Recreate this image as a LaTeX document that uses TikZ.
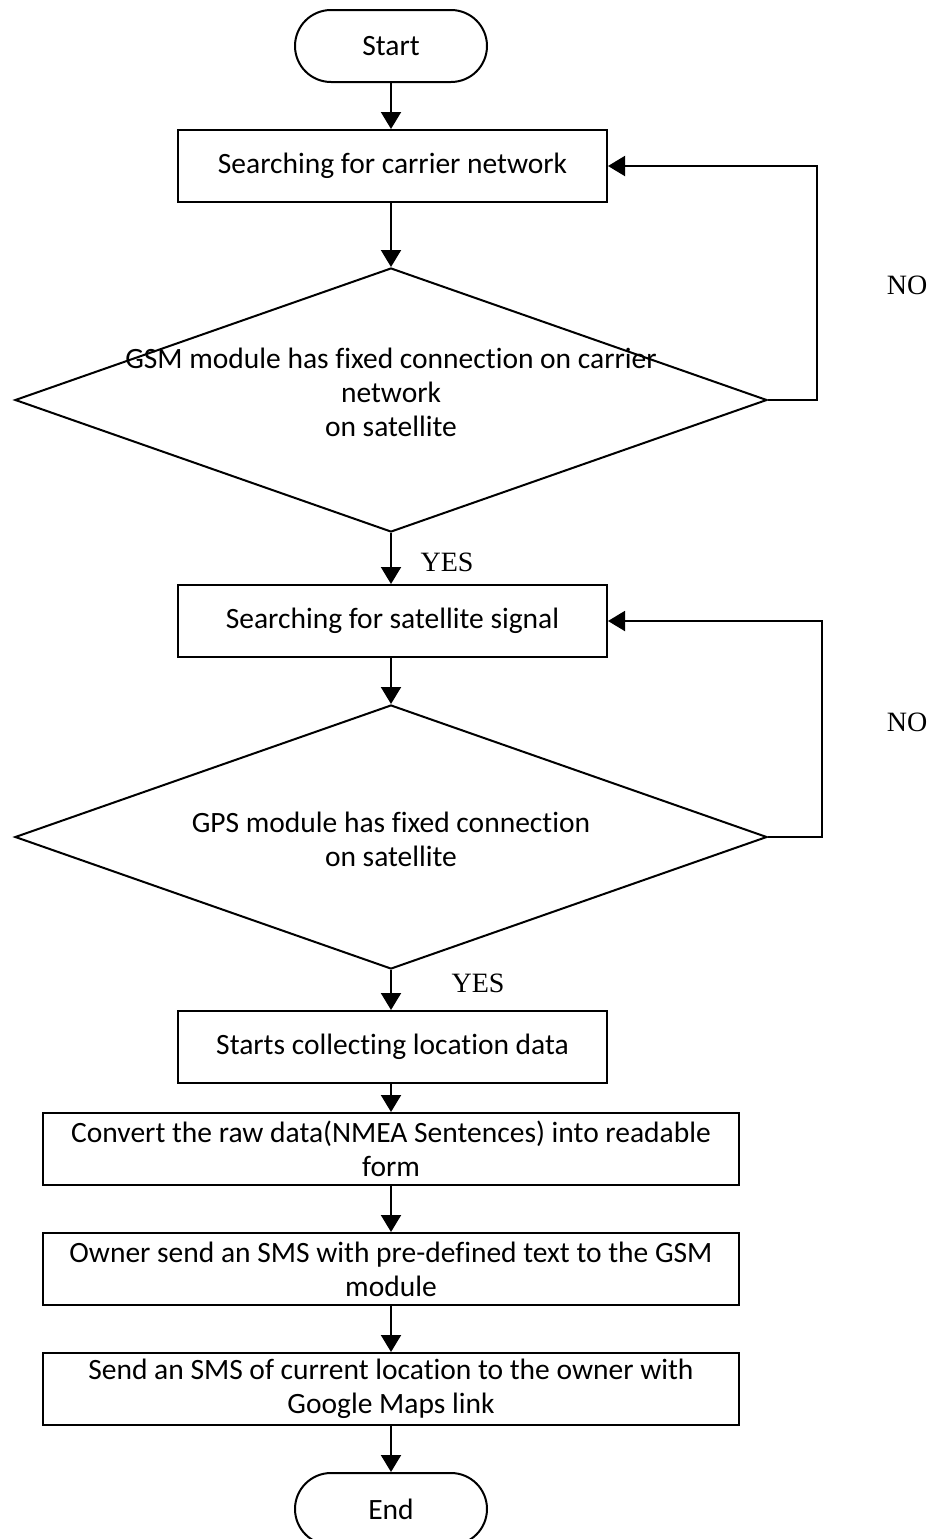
\documentclass[tikz,border=0pt]{standalone}
\usepackage{fontspec}
\setmainfont[Ligatures=NoCommon]{Carlito}
\newfontfamily\tnr{Liberation Serif}
\usetikzlibrary{arrows.meta,shapes.geometric}
\begin{document}
\begin{tikzpicture}[x=1pt,y=-1pt, line width=2pt,
 every node/.style={font=\fontsize{29.5}{34}\selectfont},
 term/.style={draw, rounded corners=36pt, minimum width=192pt, minimum height=72pt, inner sep=0pt},
 proc/.style={draw, minimum height=72pt, inner sep=0pt, align=center},
 dec/.style={draw, diamond, minimum width=752pt, minimum height=264pt, inner sep=0pt},
 lbl/.style={font=\tnr\fontsize{28}{34}\selectfont},
 arr/.style={-{Triangle[length=17pt,width=20pt]}}]
\useasboundingbox (0,0) rectangle (934,1539);
\node[term] (start) at (391,46) {Start};
\node[proc, minimum width=429pt] (b1) at (392.5,166) {Searching for carrier network};
\node[dec] (d1) at (391,400) {};
\node[align=center] (d1t) at (391,392) {GSM module has fixed connection on carrier\\network\\on satellite};
\node[proc, minimum width=429pt] (b2) at (392.5,621) {Searching for satellite signal};
\node[dec] (d2) at (391,837) {};
\node[align=center] (d2t) at (391,839) {GPS module has fixed connection\\on satellite};
\node[proc, minimum width=429pt] (b3) at (392.5,1047) {Starts collecting location data};
\node[proc, minimum width=696pt] (b4) at (391,1149) {Convert the raw data(NMEA Sentences) into readable\\form};
\node[proc, minimum width=696pt] (b5) at (391,1269) {Owner send an SMS with pre-defined text to the GSM\\module};
\node[proc, minimum width=696pt] (b6) at (391,1389) {Send an SMS of current location to the owner with\\Google Maps link};
\node[term] (end) at (391,1509) {End};
\draw[arr] (start.south) -- (start.south |- b1.north);
\draw[arr] (d1.north |- b1.south) -- (d1.north);
\draw[arr] (d1.south) -- (d1.south |- b2.north);
\draw[arr] (d2.north |- b2.south) -- (d2.north);
\draw[arr] (d2.south) -- (d2.south |- b3.north);
\draw[arr] (b4.north |- b3.south) -- (b4.north);
\draw[arr] (b4.south) -- (b5.north);
\draw[arr] (b5.south) -- (b6.north);
\draw[arr] (b6.south) -- (end.north);
\coordinate (l1) at (817,400);
\draw[arr] (d1.east) -- (l1) |- (b1.east);
\coordinate (l2) at (822,837);
\draw[arr] (d2.east) -- (l2) |- (b2.east);
\node[lbl] (no1) at (907,285) {NO};
\node[lbl] (no2) at (907,722) {NO};
\node[lbl] (yes1) at (447,562) {YES};
\node[lbl] (yes2) at (478,983) {YES};
\end{tikzpicture}
\end{document}
